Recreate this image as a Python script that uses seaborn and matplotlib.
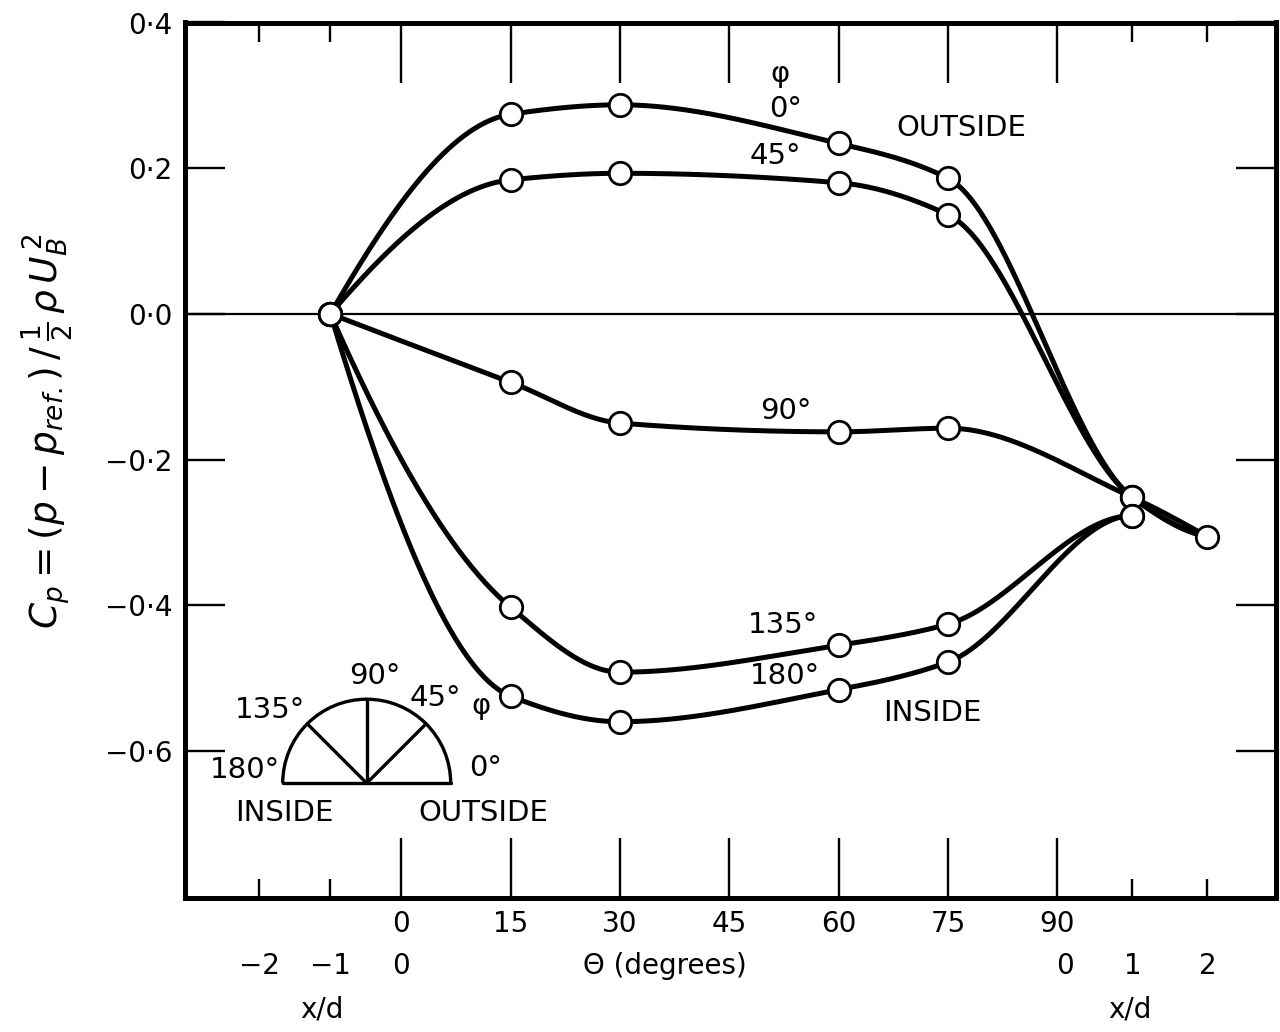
import numpy as np
import pandas as pd
import matplotlib
matplotlib.use("Agg")
import matplotlib.pyplot as plt
import matplotlib.transforms as mtransforms
from matplotlib.patches import Arc
import seaborn as sns

# ---------------- data ----------------
theta_deg = [15, 30, 60, 75]                 # stations inside the bend
xd_upstream = -1                             # x/d upstream station
xd_downstream = [1, 2]                       # x/d downstream stations
phi_names = ["0°", "45°", "90°", "135°", "180°"]

cp_upstream = [0.0, 0.0, 0.0, 0.0, 0.0]
cp_phi0 = [0.274, 0.287, 0.234, 0.186]
cp_phi45 = [0.184, 0.193, 0.180, 0.136]
cp_phi90 = [-0.094, -0.150, -0.162, -0.157]
cp_phi135 = [-0.403, -0.492, -0.455, -0.426]
cp_phi180 = [-0.525, -0.560, -0.516, -0.478]
cp_exit_xd1 = [-0.252, -0.252, -0.252, -0.277, -0.277]
cp_exit_xd2 = -0.306

theta_ticks = [0, 15, 30, 45, 60, 75, 90]
xd_left_ticks = [-2, -1, 0]
xd_right_ticks = [0, 1, 2]

# ---------------- axis mapping (composite abscissa) ----------------
DEG_PER_D_UP = 9.75
DEG_PER_D_DOWN = 10.3
BEND_END = 90.0


def x_up(d):
    return d * DEG_PER_D_UP


def x_down(d):
    return BEND_END + d * DEG_PER_D_DOWN


def pchip(x, y, xq):
    x = np.asarray(x, float)
    y = np.asarray(y, float)
    h = np.diff(x)
    d = np.diff(y) / h
    n = len(x)
    m = np.zeros(n)
    for k in range(1, n - 1):
        if d[k - 1] * d[k] > 0:
            w1 = 2 * h[k] + h[k - 1]
            w2 = h[k] + 2 * h[k - 1]
            m[k] = (w1 + w2) / (w1 / d[k - 1] + w2 / d[k])

    def end(h0, h1, d0, d1):
        m0 = ((2 * h0 + h1) * d0 - h0 * d1) / (h0 + h1)
        if np.sign(m0) != np.sign(d0):
            m0 = 0.0
        elif np.sign(d0) != np.sign(d1) and abs(m0) > 3 * abs(d0):
            m0 = 3 * d0
        return m0

    m[0] = end(h[0], h[1], d[0], d[1])
    m[-1] = end(h[-1], h[-2], d[-1], d[-2])
    idx = np.clip(np.searchsorted(x, xq) - 1, 0, n - 2)
    t = (xq - x[idx]) / h[idx]
    h00 = 2 * t**3 - 3 * t**2 + 1
    h10 = t**3 - 2 * t**2 + t
    h01 = -2 * t**3 + 3 * t**2
    h11 = t**3 - t**2
    return (h00 * y[idx] + h10 * h[idx] * m[idx]
            + h01 * y[idx + 1] + h11 * h[idx] * m[idx + 1])


series = [cp_phi0, cp_phi45, cp_phi90, cp_phi135, cp_phi180]
draw_tail = [True, True, True, False, False]

sns.set_theme(style="ticks")
plt.rcParams['font.family'] = ['DejaVu Sans']
plt.rcParams['mathtext.fontset'] = 'dejavusans'
plt.rcParams['text.color'] = 'black'
plt.rcParams['xtick.color'] = 'black'
plt.rcParams['ytick.color'] = 'black'
plt.rcParams['xtick.labelcolor'] = 'black'
plt.rcParams['ytick.labelcolor'] = 'black'
plt.rcParams['axes.labelcolor'] = 'black'

fig = plt.figure(figsize=(12.8, 10.32), dpi=100)
ax = fig.add_axes([185 / 1280, 1 - 898 / 1032, (1276 - 185) / 1280, (898 - 22.5) / 1032])

ax.axhline(0, color='black', lw=1.6, zorder=1)

pts_rows = []
for name, vals, cp0, cpx1, tail in zip(phi_names, series, cp_upstream, cp_exit_xd1, draw_tail):
    xs = [x_up(xd_upstream)] + theta_deg + [x_down(xd_downstream[0]), x_down(xd_downstream[1])]
    ys = [cp0] + vals + [cpx1, cp_exit_xd2]
    x_end = xs[-1] if tail else xs[-2]
    xq = np.linspace(xs[0], x_end, 500)
    dense = pd.DataFrame({"x": xq, "cp": pchip(xs, ys, xq)})
    sns.lineplot(data=dense, x="x", y="cp", color='black', lw=3.6, sort=False,
                 estimator=None, legend=False, ax=ax, zorder=3)
    for xv, yv in zip(xs[:-1], ys[:-1]):
        pts_rows.append({"x": xv, "cp": yv, "phi": name})
pts_rows.append({"x": x_down(xd_downstream[1]), "cp": cp_exit_xd2, "phi": "all"})
pts = pd.DataFrame(pts_rows)
sns.scatterplot(data=pts, x="x", y="cp", s=260, color='white', edgecolor='black',
                linewidth=2.0, legend=False, ax=ax, zorder=5)

ax.set_xlim(-29.7, 120.0)
ax.set_ylim(-0.802, 0.4)
ax.set_xlabel("")
ax.set_ylabel("")

# ticks
ax.set_xticks([float(t) for t in theta_ticks], [str(t) for t in theta_ticks])
ax.set_xticks([x_up(d) for d in xd_left_ticks if d != 0] +
              [x_down(d) for d in xd_right_ticks if d != 0], minor=True)
ax.tick_params(axis='x', which='major', direction='in', length=43, width=1.7,
               top=True, bottom=True, labelsize=20, pad=9)
ax.tick_params(axis='x', which='minor', direction='in', length=14, width=1.7,
               top=True, bottom=True)
yt = [0.4, 0.2, 0.0, -0.2, -0.4, -0.6]
ax.set_yticks(yt, [("−" if v < 0 else "") + f"{abs(v):.1f}".replace(".", "·") for v in yt])
ax.tick_params(axis='y', which='major', direction='in', length=29, width=1.7,
               left=True, right=True, labelsize=20, pad=9)
ax.tick_params(axis='y', which='minor', left=False, right=False)
for sp in ax.spines.values():
    sp.set_linewidth(3.6)
    sp.set_color('black')
    sp.set_visible(True)

# second and third rows of abscissa labels
trans = mtransforms.blended_transform_factory(ax.transData, fig.transFigure)
row2_y = 1 - 966 / 1032
row3_y = 1 - 1010 / 1032
for d in xd_left_ticks:
    ax.text(x_up(d), row2_y, ("−" if d < 0 else "") + str(abs(d)), transform=trans,
            ha='center', va='center', fontsize=20, clip_on=False)
for d in xd_right_ticks:
    ax.text(x_down(d) + (1.1 if d == 0 else 0.0), row2_y, str(d), transform=trans,
            ha='center', va='center', fontsize=20, clip_on=False)
ax.text(36.2, row2_y, "Θ (degrees)", transform=trans, ha='center', va='center',
        fontsize=20, clip_on=False)
ax.text(-10.9, row3_y, "x/d", transform=trans, ha='center', va='center', fontsize=20, clip_on=False)
ax.text(99.9, row3_y, "x/d", transform=trans, ha='center', va='center', fontsize=20, clip_on=False)

# y label
fig.text(48 / 1280, 1 - 431 / 1032,
         r"$C_p=(p-p_{ref.})\,/\,\frac{1}{2}\,\rho\,U_B^{\,2}$",
         rotation=90, ha='center', va='center', fontsize=27)

# curve annotations
fs = 21
ax.text(51.9, 0.3295, "φ", ha='center', va='center', fontsize=fs)
ax.text(50.4, 0.2815, "0°", ha='left', va='center', fontsize=fs)
ax.text(76.8, 0.255, "OUTSIDE", ha='center', va='center', fontsize=fs)
ax.text(51.3, 0.217, "45°", ha='center', va='center', fontsize=fs)
ax.text(52.7, -0.133, "90°", ha='center', va='center', fontsize=fs)
ax.text(52.3, -0.427, "135°", ha='center', va='center', fontsize=fs)
ax.text(52.6, -0.497, "180°", ha='center', va='center', fontsize=fs)
ax.text(72.9, -0.548, "INSIDE", ha='center', va='center', fontsize=fs)

# inset semicircle diagram of the angle phi
PX_X = 7.289    # pixels per x unit
PX_Y = 728.3    # pixels per y unit
cx, cy = -4.77, -0.6444
r_px = 84
rx, ry = r_px / PX_X, r_px / PX_Y
ax.add_patch(Arc((cx, cy), 2 * rx, 2 * ry, theta1=0, theta2=180, lw=2.4,
                 color='black', zorder=4))
ax.plot([cx - rx, cx + rx], [cy, cy], color='black', lw=2.4, zorder=4)
for a in [45, 90, 135]:
    ar = np.deg2rad(a)
    ax.plot([cx, cx + rx * np.cos(ar)], [cy, cy + ry * np.sin(ar)],
            color='black', lw=2.4, zorder=4)
ax.text(-3.6, -0.497, "90°", ha='center', va='center', fontsize=fs)
ax.text(4.7, -0.527, "45°", ha='center', va='center', fontsize=fs)
ax.text(10.9, -0.538, "φ", ha='center', va='center', fontsize=fs)
ax.text(-18.0, -0.544, "135°", ha='center', va='center', fontsize=fs)
ax.text(-21.5, -0.626, "180°", ha='center', va='center', fontsize=fs)
ax.text(11.5, -0.623, "0°", ha='center', va='center', fontsize=fs)
ax.text(-16.1, -0.685, "INSIDE", ha='center', va='center', fontsize=fs)
ax.text(11.3, -0.685, "OUTSIDE", ha='center', va='center', fontsize=fs)

fig.savefig("out.png", dpi=100, facecolor='white')
